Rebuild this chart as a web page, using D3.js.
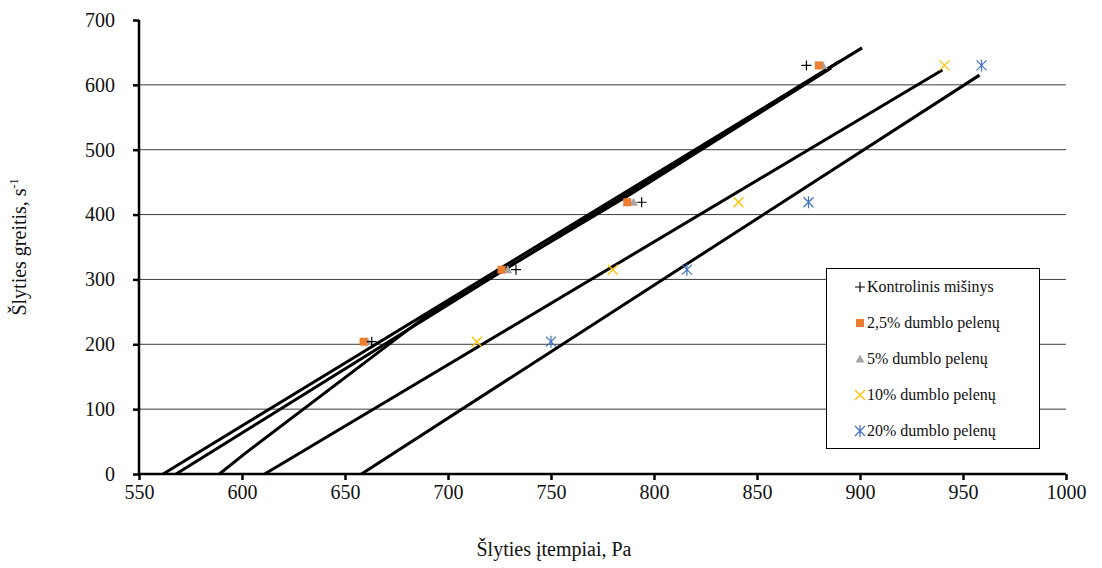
<!DOCTYPE html>
<html><head><meta charset="utf-8">
<script src="https://cdn.jsdelivr.net/npm/d3@7"></script>
<style>body{margin:0;background:#fff}svg{display:block}svg text{font-family:"Liberation Serif","DejaVu Serif",serif}</style>
</head><body><svg id="c" width="1102" height="568"></svg>
<script>
const shearRate = [204, 315, 419, 630];
const kontrolinis = [663, 733, 794, 874];
const dumblo25 = [659, 726, 787, 880];
const dumblo5 = [661, 729, 790, 882];
const dumblo10 = [714, 780, 841, 941];
const dumblo20 = [750, 816, 875, 959];
const seriesNames = ["Kontrolinis mišinys", "2,5% dumblo pelenų", "5% dumblo pelenų", "10% dumblo pelenų", "20% dumblo pelenų"];
// trendline points [stress, rate]
const trendK = [[568, 0], [890, 636]];
const trend25 = [[561.7, 0], [901, 657]];
const trend5 = [[589, 0], [602, 33], [690, 245], [789, 432], [886, 626]];
const trend10 = [[611, 0], [940, 623]];
const trend20 = [[658, 0], [958, 615]];
const xTicks = [550, 600, 650, 700, 750, 800, 850, 900, 950, 1000];
const yTicks = [0, 100, 200, 300, 400, 500, 600, 700];

const FONT = "'Liberation Serif','DejaVu Serif',serif";
const svg = d3.select("#c");
const x = d3.scaleLinear().domain([550, 1000]).range([139, 1066]);
const y = d3.scaleLinear().domain([0, 700]).range([474, 20]);

// gridlines
svg.append("g").selectAll("line").data(yTicks.filter(t => t > 0 && t < 700)).join("line")
  .attr("x1", x(550)).attr("x2", x(1000)).attr("y1", d => y(d)).attr("y2", d => y(d))
  .attr("stroke", "#3c3c3c").attr("stroke-width", 1);

// trendlines
const line = d3.line().x(d => x(d[0])).y(d => y(d[1]));
[trendK, trend25, trend5, trend10, trend20].forEach(t => {
  svg.append("path").attr("d", line(t)).attr("fill", "none").attr("stroke", "#000")
    .attr("stroke-width", 3).attr("stroke-linejoin", "round");
});

// axes
const ya = svg.append("g").attr("transform", `translate(${x(550)},0)`)
  .call(d3.axisLeft(y).tickValues(yTicks).tickFormat(d3.format("d")).tickSize(6).tickPadding(18));
const xa = svg.append("g").attr("transform", `translate(0,${y(0)})`)
  .call(d3.axisBottom(x).tickValues(xTicks).tickFormat(d3.format("d")).tickSize(6).tickPadding(5));
[ya, xa].forEach(a => {
  a.attr("font-family", FONT).attr("font-size", 20);
  a.select(".domain").attr("stroke", "#000").attr("stroke-width", 2.5);
  a.selectAll(".tick line").attr("stroke", "#000").attr("stroke-width", 2.5);
  a.selectAll(".tick text").attr("fill", "#111").attr("font-family", FONT);
});
ya.select(".domain").attr("d", `M0,${y(700)}V${y(0)}`);
xa.select(".domain").attr("d", `M${x(550)},0H${x(1000)}`);

// markers
function drawMarker(g, type, cx, cy) {
  if (type === 0) {
    g.append("path").attr("d", `M${cx-5},${cy}H${cx+5}M${cx},${cy-5}V${cy+5}`).attr("stroke", "#000").attr("stroke-width", 1.2);
  } else if (type === 1) {
    g.append("rect").attr("x", cx-4).attr("y", cy-4).attr("width", 8).attr("height", 8).attr("fill", "#ED7D31");
  } else if (type === 2) {
    g.append("path").attr("d", `M${cx},${cy-4.5}L${cx+4.5},${cy+3.5}L${cx-4.5},${cy+3.5}Z`).attr("fill", "#A5A5A5");
  } else if (type === 3) {
    g.append("path").attr("d", `M${cx-5},${cy-5}L${cx+5},${cy+5}M${cx-5},${cy+5}L${cx+5},${cy-5}`).attr("stroke", "#FFC000").attr("stroke-width", 1.3);
  } else {
    g.append("path").attr("d", `M${cx-5},${cy-5}L${cx+5},${cy+5}M${cx-5},${cy+5}L${cx+5},${cy-5}M${cx},${cy-6}V${cy+6}`).attr("stroke", "#4472C4").attr("stroke-width", 1.2);
  }
}
const allSeries = [kontrolinis, dumblo25, dumblo5, dumblo10, dumblo20];
const mg = svg.append("g");
[2, 1, 0, 3, 4].forEach(i => {
  allSeries[i].forEach((v, j) => drawMarker(mg, i, x(v), y(shearRate[j])));
});

// legend
const lg = svg.append("g");
lg.append("rect").attr("x", 826.5).attr("y", 268.5).attr("width", 213).attr("height", 180)
  .attr("fill", "#fff").attr("stroke", "#000").attr("stroke-width", 1);
seriesNames.forEach((n, i) => {
  const yy = 287 + i * 36;
  drawMarker(lg, i, 860, yy);
  lg.append("text").attr("x", 867).attr("y", yy + 5).attr("font-family", FONT).attr("font-size", 16).attr("fill", "#111").text(n);
});

// axis titles
svg.append("text").attr("x", 554).attr("y", 556).attr("text-anchor", "middle").attr("font-family", FONT).attr("font-size", 20).attr("fill", "#111")
  .text("Šlyties įtempiai, Pa");
const yt = svg.append("text").attr("transform", "translate(26,247) rotate(-90)").attr("text-anchor", "middle")
  .attr("font-family", FONT).attr("font-size", 20).attr("fill", "#111");
yt.append("tspan").text("Šlyties greitis, s");
yt.append("tspan").attr("font-size", 12).attr("dy", -8).text("-1");
</script></body></html>
